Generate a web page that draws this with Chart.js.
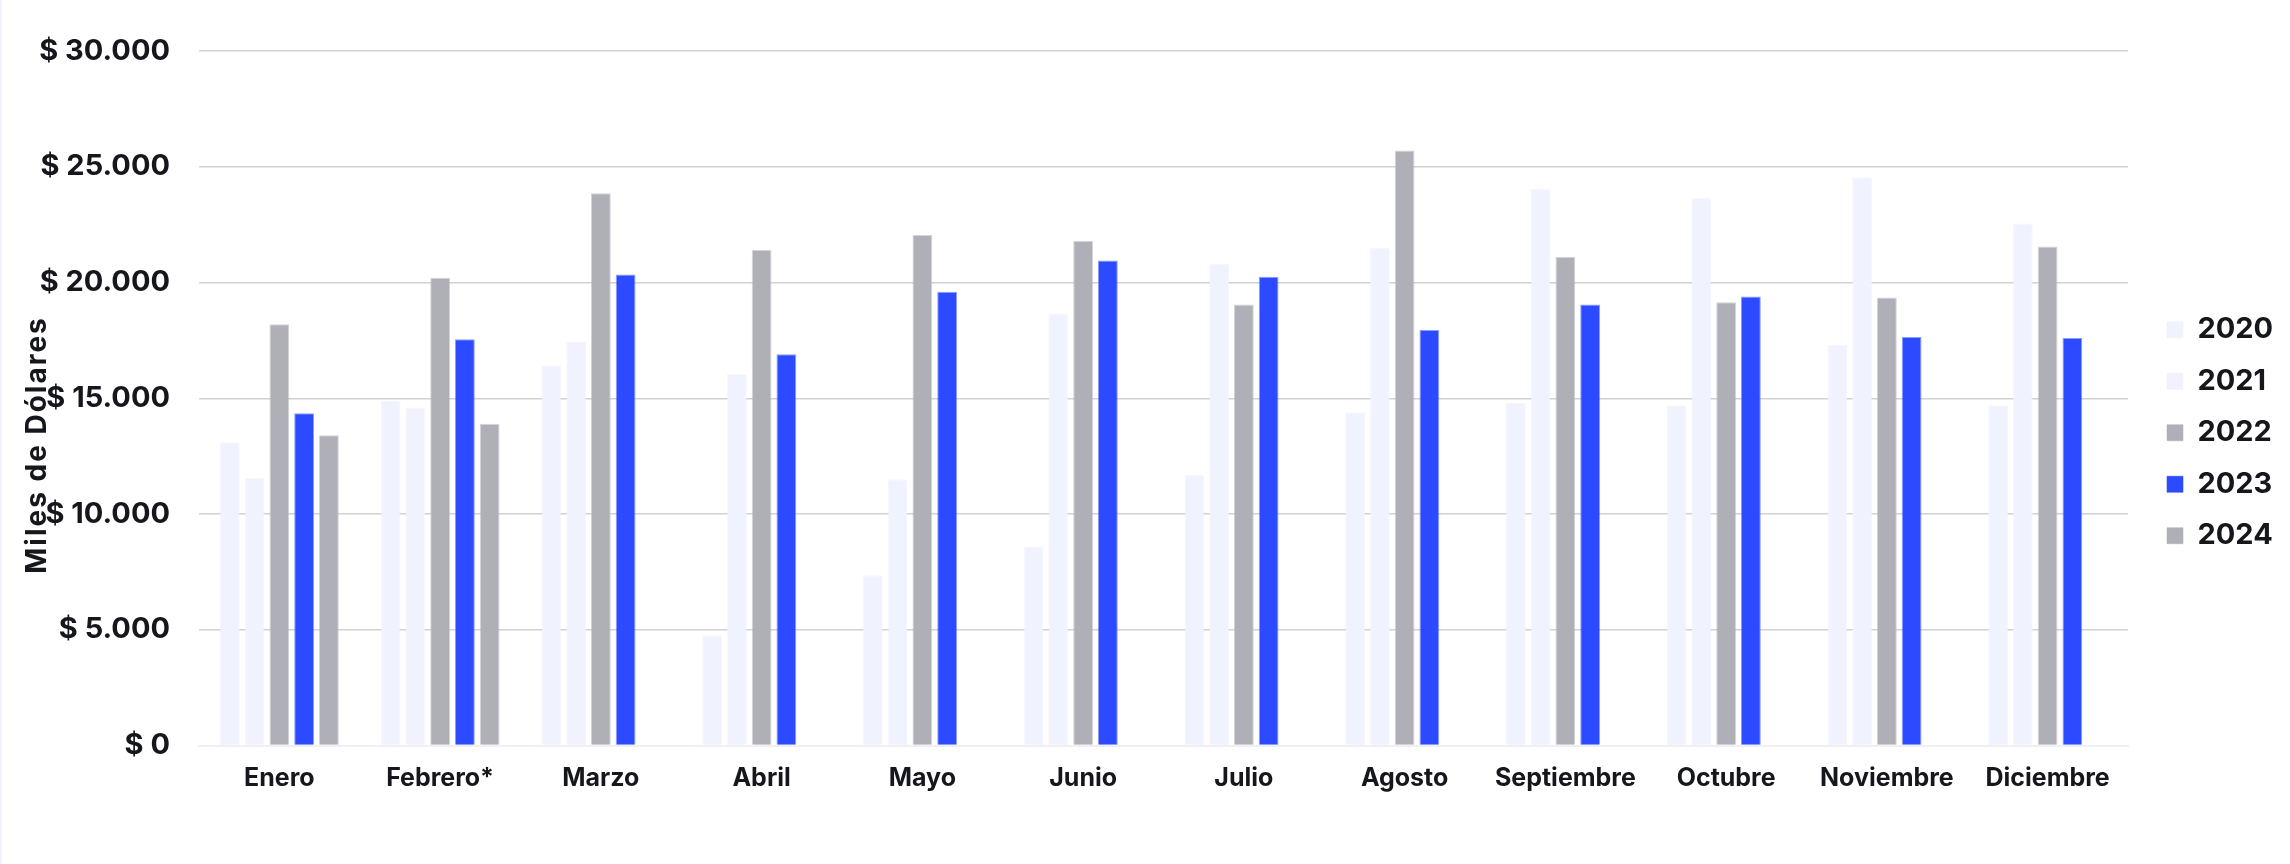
<!DOCTYPE html>
<html>
<head>
<meta charset="utf-8">
<script src="https://cdn.jsdelivr.net/npm/chart.js@4/dist/chart.umd.min.js"></script>
<style>
  html, body { margin: 0; padding: 0; background: #ffffff; }
  #wrap { position: relative; width: 2290px; height: 864px; }
  #edge { position: absolute; left: 0; top: 0; width: 2px; height: 864px; background: #f0f2fe; }
</style>
</head>
<body>
<div id="wrap"><canvas id="c"></canvas><div id="edge"></div></div>
<script>
// ---- data ----
const months = ['Enero', 'Febrero*', 'Marzo', 'Abril', 'Mayo', 'Junio', 'Julio', 'Agosto', 'Septiembre', 'Octubre', 'Noviembre', 'Diciembre'];
const years = ['2020', '2021', '2022', '2023', '2024'];
const v2020 = [13100, 14900, 16400, 4750, 7350, 8600, 11700, 14400, 14800, 14700, 17300, 14700];
const v2021 = [11550, 14600, 17450, 16050, 11500, 18650, 20800, 21500, 24050, 23650, 24550, 22550];
const v2022 = [18200, 20200, 23850, 21400, 22050, 21800, 19050, 25700, 21100, 19150, 19350, 21550];
const v2023 = [14350, 17550, 20350, 16900, 19600, 20950, 20250, 17950, 19050, 19400, 17650, 17600];
const v2024 = [13400, 13900, null, null, null, null, null, null, null, null, null, null];
const yTickValues = [0, 5000, 10000, 15000, 20000, 25000, 30000];
const yTickLabels = ['$ 0', '$ 5.000', '$ 10.000', '$ 15.000', '$ 20.000', '$ 25.000', '$ 30.000'];
const yAxisTitle = 'Miles de Dólares';

// ---- styles ----
const textColor = '#16171d';
const colLight = '#f0f2fe';
const colGray = '#afafb7';
const colBlue = '#2c4aff';
const seriesValues = [v2020, v2021, v2022, v2023, v2024];
const seriesColors = [colLight, colLight, colGray, colBlue, colGray];
const seriesBorders = ['rgba(240,242,254,0.6)', 'rgba(240,242,254,0.6)', 'rgba(176,176,184,0.55)', 'rgba(44,74,255,0.55)', 'rgba(176,176,184,0.55)'];

Chart.defaults.font.family = 'Inter';
Chart.defaults.color = textColor;

const LEGEND_W = 162;
const LEGEND_FONT = 29;
const LEGEND_PAD = 22.5;
const LEGEND_DX = 16.5;
const LEGEND_DY = 1.5;

const legendFix = {
  id: 'legendFix',
  beforeLayout(chart) {
    const lg = chart.legend;
    if (lg && !lg._patched) {
      const f = lg.fit;
      lg.fit = function () { f.call(this); this.width = LEGEND_W; };
      lg._patched = true;
    }
  },
  afterLayout(chart) {
    const lg = chart.legend;
    if (lg) {
      lg.left += LEGEND_DX; lg.right += LEGEND_DX;
      lg.top += LEGEND_DY; lg.bottom += LEGEND_DY;
    }
  }
};

const yTitle = {
  id: 'yTitle',
  afterDraw(chart) {
    const ctx = chart.ctx;
    ctx.save();
    ctx.translate(46, 445);
    ctx.rotate(-Math.PI / 2);
    ctx.font = '700 28px Inter';
    ctx.letterSpacing = '2px';
    ctx.fillStyle = textColor;
    ctx.textAlign = 'center';
    ctx.textBaseline = 'alphabetic';
    ctx.fillText(yAxisTitle, 0, 0);
    ctx.restore();
  }
};

new Chart(document.getElementById('c'), {
  type: 'bar',
  data: {
    labels: months,
    datasets: years.map((y, i) => ({
      label: y,
      data: seriesValues[i],
      backgroundColor: seriesColors[i],
      borderColor: seriesBorders[i],
      borderWidth: 1,
      categoryPercentage: 0.77,
      barPercentage: 0.8
    }))
  },
  options: {
    responsive: true,
    maintainAspectRatio: false,
    devicePixelRatio: 1,
    animation: false,
    layout: { padding: { top: 51, bottom: 52.5, left: 0, right: 0 } },
    plugins: {
      legend: {
        position: 'right',
        labels: {
          boxWidth: 16,
          boxHeight: 16,
          padding: LEGEND_PAD,
          color: textColor,
          font: { size: LEGEND_FONT, weight: '700' }
        }
      },
      tooltip: { enabled: false }
    },
    scales: {
      x: {
        grid: { display: false, drawTicks: false },
        border: { display: true, color: '#eff0f4', width: 2 },
        ticks: {
          autoSkip: false,
          maxRotation: 0,
          padding: 18,
          color: textColor,
          font: { size: 25, weight: '700' }
        }
      },
      y: {
        min: 0,
        max: 30000,
        afterFit(scale) { scale.width = 199; },
        afterBuildTicks(scale) { scale.ticks = yTickValues.map(v => ({ value: v })); },
        grid: { color: '#d2d2d6', lineWidth: 1.5, drawTicks: false },
        border: { display: false },
        ticks: {
          padding: 29,
          color: textColor,
          font: { size: 29, weight: '700' },
          callback: (v) => yTickLabels[yTickValues.indexOf(v)]
        }
      }
    }
  },
  plugins: [legendFix, yTitle]
});
</script>
</body>
</html>
